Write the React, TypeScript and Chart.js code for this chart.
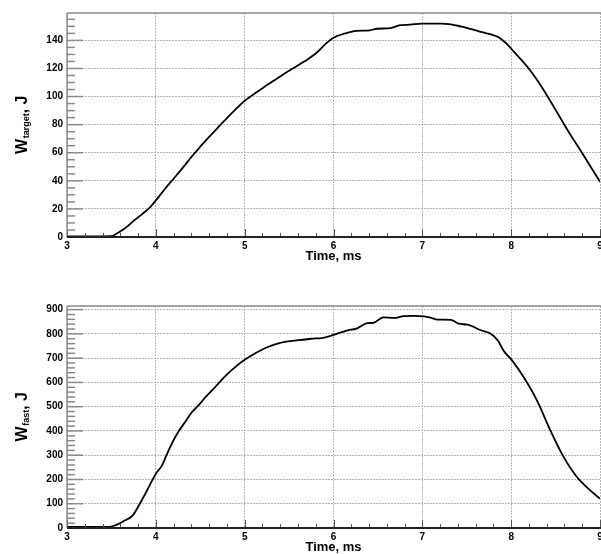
import React, { useEffect, useRef } from "react";
import { Chart, registerables } from "chart.js";

Chart.register(...registerables);

// ---- Data ----
const TIME_TARGET = [3.0, 3.2, 3.4, 3.5, 3.56, 3.65, 3.75, 3.85, 3.94, 4.0, 4.1, 4.2, 4.3, 4.4, 4.5, 4.6, 4.7, 4.8, 4.9, 5.0, 5.1, 5.2, 5.32, 5.45, 5.62, 5.72, 5.81, 5.92, 6.0, 6.11, 6.26, 6.41, 6.49, 6.64, 6.75, 6.86, 7.0, 7.22, 7.43, 7.55, 7.66, 7.85, 7.95, 8.03, 8.18, 8.3, 8.41, 8.5, 8.6, 8.7, 8.79, 8.9, 9.0];
const W_TARGET = [0.5, 0.5, 0.5, 0.6, 2.5, 6, 11.5, 16.5, 21.5, 26, 34, 41.5, 49, 57, 64.3, 71.3, 78, 84.6, 91, 97, 101.5, 106, 111, 116.5, 123, 127, 131.2, 138, 141.9, 144.6, 146.8, 147.2, 148.3, 148.7, 150.8, 151.2, 151.9, 151.9, 150, 148, 146, 142.5, 137.5, 132, 121.4, 111, 100, 90.5, 79.8, 69.5, 60.7, 49.5, 39.3];

const TIME_FAST = [3.0, 3.3, 3.48, 3.55, 3.63, 3.74, 3.82, 3.88, 3.94, 4.0, 4.07, 4.12, 4.18, 4.25, 4.33, 4.4, 4.48, 4.56, 4.64, 4.72, 4.79, 4.9, 5.0, 5.12, 5.24, 5.39, 5.58, 5.75, 5.88, 6.0, 6.15, 6.26, 6.38, 6.45, 6.56, 6.68, 6.79, 6.9, 7.02, 7.1, 7.17, 7.32, 7.41, 7.51, 7.66, 7.77, 7.85, 7.92, 8.01, 8.14, 8.29, 8.44, 8.59, 8.74, 8.89, 9.0];
const W_FAST = [5, 5, 5, 12, 27, 52, 100, 140, 183, 224, 258, 300, 348, 395, 437, 475, 505, 540, 570, 602, 629, 665, 693, 720, 743, 762, 773, 780, 784, 796, 814, 822, 844, 846, 868, 866, 873, 874, 872, 866, 859, 858, 842, 838, 815, 801, 773, 728, 691, 622, 526, 403, 293, 210, 155, 121];

const X_TICKS = [3, 4, 5, 6, 7, 8, 9];
const X_MINOR_STEP = 0.2;
const TARGET_Y_TICKS = [0, 20, 40, 60, 80, 100, 120, 140];
const TARGET_Y_MINOR_STEP = 5;
const TARGET_Y_MAX = 159.5;
const FAST_Y_TICKS = [0, 100, 200, 300, 400, 500, 600, 700, 800, 900];
const FAST_Y_MINOR_STEP = 20;
const FAST_Y_MAX = 915;

const X_TITLE = "Time, ms";
const TARGET_TITLE = { main: "W", sub: "target", rest: ", J" };
const FAST_TITLE = { main: "W", sub: "fast", rest: ", J" };

const FONT = "'Liberation Sans', Arial, Helvetica, sans-serif";

type Panel = {
  height: number;
  padTop: number;
  plotBottom: number;
  xs: number[];
  ys: number[];
  yMax: number;
  yTicks: number[];
  yMinor: number;
  title: { main: string; sub: string; rest: string };
};

const frameWidth = 601;

function makeConfig(p: Panel): any {
  const rootAxes = {
    id: "rootAxes",
    afterDatasetsDraw(chart: any) {
      const ctx = chart.ctx as CanvasRenderingContext2D;
      const area = chart.chartArea;
      const xs = chart.scales.x;
      const ys = chart.scales.y;
      ctx.save();
      // minor + major ticks on x axis (inward)
      ctx.strokeStyle = "#555";
      ctx.lineWidth = 1;
      const nMinorX = Math.round((X_TICKS[X_TICKS.length - 1] - X_TICKS[0]) / X_MINOR_STEP);
      for (let i = 0; i <= nMinorX; i++) {
        const v = X_TICKS[0] + i * X_MINOR_STEP;
        const isMajor = Math.abs(v - Math.round(v)) < 1e-6;
        const px = Math.round(xs.getPixelForValue(v)) + 0.5;
        const len = isMajor ? 8 : 4;
        ctx.beginPath();
        ctx.moveTo(px, area.bottom);
        ctx.lineTo(px, area.bottom - len);
        ctx.stroke();
      }
      // y ticks
      ctx.strokeStyle = "#8a8a8a";
      ctx.lineWidth = 1.5;
      const major = p.yTicks[1] - p.yTicks[0];
      for (let v = 0; v <= p.yMax + 1e-6; v += p.yMinor) {
        const isMajor = Math.abs(v / major - Math.round(v / major)) < 1e-6;
        const py = ys.getPixelForValue(v);
        const len = isMajor ? 16 : 8;
        ctx.beginPath();
        ctx.moveTo(area.left, py);
        ctx.lineTo(area.left + len, py);
        ctx.stroke();
      }
      // frame lines
      ctx.strokeStyle = "#888";
      ctx.lineWidth = 1.5;
      ctx.beginPath();
      ctx.moveTo(area.left, area.top);
      ctx.lineTo(chart.width, area.top);
      ctx.stroke();
      ctx.strokeStyle = "#777";
      ctx.lineWidth = 1.2;
      ctx.beginPath();
      ctx.moveTo(area.left, area.top);
      ctx.lineTo(area.left, area.bottom);
      ctx.stroke();
      ctx.strokeStyle = "#222";
      ctx.lineWidth = 2;
      ctx.beginPath();
      ctx.moveTo(area.left, area.bottom);
      ctx.lineTo(chart.width, area.bottom);
      ctx.stroke();

      // x axis title
      ctx.fillStyle = "#000";
      ctx.font = `bold 13px ${FONT}`;
      ctx.textAlign = "center";
      ctx.textBaseline = "alphabetic";
      ctx.fillText(X_TITLE, (area.left + area.right) / 2, area.bottom + 22.5);

      // y axis title with subscript
      const mainFont = `bold 16px ${FONT}`;
      const subFont = `bold 9px ${FONT}`;
      ctx.font = mainFont;
      const wMain = ctx.measureText(p.title.main).width;
      const wRest = ctx.measureText(p.title.rest).width;
      ctx.font = subFont;
      const wSub = ctx.measureText(p.title.sub).width;
      const total = wMain + wSub + wRest;
      ctx.translate(27, (area.top + area.bottom) / 2);
      ctx.rotate(-Math.PI / 2);
      ctx.textAlign = "left";
      let cx = -total / 2;
      ctx.font = mainFont;
      ctx.fillText(p.title.main, cx, 0);
      cx += wMain + 0.5;
      ctx.font = subFont;
      ctx.fillText(p.title.sub, cx, 2);
      cx += wSub;
      ctx.font = mainFont;
      ctx.fillText(p.title.rest, cx, 0);
      ctx.restore();
    },
  };

  return {
    type: "line",
    data: {
      datasets: [
        {
          data: p.xs.map((x, i) => ({ x, y: p.ys[i] })),
          borderColor: "#000",
          borderWidth: 1.8,
          pointRadius: 0,
          cubicInterpolationMode: "monotone",
          fill: false,
        },
      ],
    },
    options: {
      animation: false,
      responsive: false,
      events: [],
      layout: { padding: { top: p.padTop, left: 0, right: 1, bottom: 0 } },
      plugins: { legend: { display: false }, tooltip: { enabled: false }, title: { display: false } },
      scales: {
        x: {
          type: "linear",
          min: X_TICKS[0],
          max: X_TICKS[X_TICKS.length - 1],
          afterBuildTicks: (s: any) => {
            s.ticks = X_TICKS.map((v) => ({ value: v }));
          },
          afterFit: (s: any) => {
            s.height = p.height - p.plotBottom;
            s.paddingLeft = 0;
            s.paddingRight = 0;
          },
          grid: { color: "#b4b4b4", lineWidth: 1, drawTicks: false },
          border: { display: false, dash: [2, 1] },
          ticks: {
            padding: 3,
            color: "#000",
            font: { family: FONT, size: 10, weight: "bold" },
            maxRotation: 0,
            autoSkip: false,
            callback: (v: any) => String(v),
          },
        },
        y: {
          type: "linear",
          min: 0,
          max: p.yMax,
          afterBuildTicks: (s: any) => {
            s.ticks = p.yTicks.map((v) => ({ value: v }));
          },
          afterFit: (s: any) => {
            s.width = 67;
            s.paddingTop = 0;
            s.paddingBottom = 0;
          },
          grid: { color: "#b4b4b4", lineWidth: 1, drawTicks: false },
          border: { display: false, dash: [2, 1] },
          ticks: {
            padding: 4,
            color: "#000",
            font: { family: FONT, size: 10, weight: "bold" },
            autoSkip: false,
            callback: (v: any) => String(v),
          },
        },
      },
    },
    plugins: [rootAxes],
  };
}

function PanelChart({ panel, top }: { panel: Panel; top: number }) {
  const ref = useRef<HTMLCanvasElement | null>(null);
  useEffect(() => {
    if (!ref.current) return;
    const chart = new Chart(ref.current, makeConfig(panel));
    return () => chart.destroy();
  }, []);
  return (
    <canvas
      ref={ref}
      width={frameWidth}
      height={panel.height}
      style={{ position: "absolute", left: 0, top, width: frameWidth, height: panel.height, display: "block" }}
    />
  );
}

const TOP_PANEL: Panel = {
  height: 275,
  padTop: 13,
  plotBottom: 237,
  xs: TIME_TARGET,
  ys: W_TARGET,
  yMax: TARGET_Y_MAX,
  yTicks: TARGET_Y_TICKS,
  yMinor: TARGET_Y_MINOR_STEP,
  title: TARGET_TITLE,
};

const BOTTOM_PANEL: Panel = {
  height: 279,
  padTop: 31,
  plotBottom: 253,
  xs: TIME_FAST,
  ys: W_FAST,
  yMax: FAST_Y_MAX,
  yTicks: FAST_Y_TICKS,
  yMinor: FAST_Y_MINOR_STEP,
  title: FAST_TITLE,
};

export default function App() {
  return (
    <div style={{ position: "absolute", left: 0, top: 0, width: 601, height: 554, background: "#fff", overflow: "hidden" }}>
      <PanelChart panel={TOP_PANEL} top={0} />
      <PanelChart panel={BOTTOM_PANEL} top={275} />
    </div>
  );
}
